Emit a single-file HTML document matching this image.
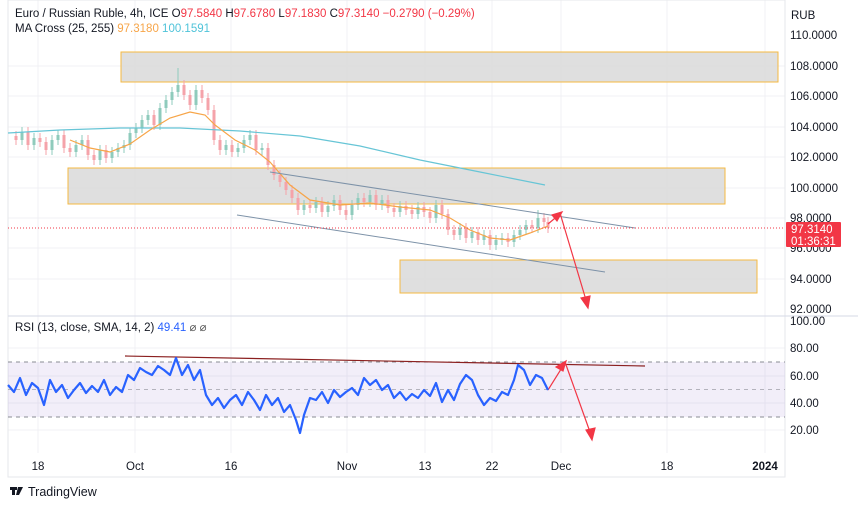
<!DOCTYPE html>
<html><head><meta charset="utf-8"><style>
body{margin:0;background:#fff;width:858px;height:507px;overflow:hidden;font-family:"Liberation Sans",sans-serif}
</style></head><body>
<svg width="858" height="507" xmlns="http://www.w3.org/2000/svg" font-family="Liberation Sans, sans-serif">
<rect width="858" height="507" fill="#fff"/>
<g stroke="#f0f1f4" stroke-width="1">
<path d="M38 0V453M135 0V453M231 0V453M347 0V453M425 0V453M492 0V453M561 0V453M667 0V453M765 0V453"/>
<path d="M8 66H785M8 96H785M8 127H785M8 157H785M8 188H785M8 218H785M8 248H785M8 279H785M8 348H785M8 376H785M8 403H785M8 430H785"/>
</g>
<rect x="8" y="0" width="777" height="477" fill="none" stroke="#e6e7eb"/>
<line x1="8" y1="316" x2="858" y2="316" stroke="#d6d8e6"/>
<rect x="8" y="362" width="777" height="55" fill="#7e57c2" fill-opacity="0.1"/>
<g stroke="#8a8c94" stroke-dasharray="4,4" stroke-width="1">
<line x1="8" y1="362" x2="785" y2="362"/><line x1="8" y1="389.5" x2="785" y2="389.5" stroke-opacity="0.6"/><line x1="8" y1="417" x2="785" y2="417"/></g>
<rect x="121" y="52" width="657" height="30" fill="#dcdcdc" fill-opacity="0.9" stroke="#f5b942"/>
<rect x="68" y="168" width="657" height="36" fill="#dcdcdc" fill-opacity="0.9" stroke="#f5b942"/>
<rect x="400" y="260" width="357" height="33" fill="#dcdcdc" fill-opacity="0.9" stroke="#f5b942"/>
<!-- candles -->
<path stroke="#f5a3aa" stroke-width="1" fill="none" d="M16 131V145M28 127V150M40 133V147M46 137V155M64 130V153M70 143V157M88 135V160M94 150V165M106 145V163M154 110V130M184 80V100M190 90V110M202 85V103M208 93V115M214 105V145M220 135V155M232 140V157M256 130V155M268 143V170M274 160V180M280 170V187M286 177V195M292 185V203M298 193V215M310 200V213M322 197V217M340 195V215M346 205V220M364 193V207M376 190V210M388 195V213M394 203V217M406 201V215M412 205V219M424 202V217M430 207V223M442 200V219M448 209V235M454 225V240M466 223V243M478 227V245M490 230V250M508 233V247M532 220V233M544 213V227M548 217V233"/>
<path stroke="#f5a3aa" stroke-width="3" fill="none" d="M16 136V140M28 132V145M40 138V142M46 142V150M64 135V148M70 148V152M88 140V155M94 155V160M106 150V158M154 115V125M184 85V95M190 95V105M202 90V98M208 98V110M214 110V140M220 140V150M232 145V152M256 135V150M268 148V165M274 165V175M280 175V182M286 182V190M292 190V198M298 198V210M310 205V208M322 202V212M340 200V210M346 210V215M364 198V202M376 195V205M388 200V208M394 208V212M406 206V210M412 210V214M424 207V212M430 212V218M442 205V214M448 214V230M454 230V235M466 228V238M478 232V240M490 235V245M508 238V242M532 225V228M544 218V222M548 222V228"/>
<path stroke="#8fcbbc" stroke-width="1" fill="none" d="M22 127V145M34 133V150M52 135V155M58 130V145M76 140V157M82 135V150M100 145V165M112 147V163M118 143V157M124 140V153M130 128V150M136 123V138M142 115V133M148 110V125M160 103V130M166 95V113M172 87V105M178 68V97M196 85V110M226 140V155M238 143V157M244 135V153M250 130V145M262 143V155M304 200V215M316 197V213M328 201V217M334 195V211M352 200V220M358 193V210M370 190V207M382 195V210M400 201V217M418 202V219M436 200V223M460 223V240M472 227V243M484 230V245M496 235V250M502 233V245M514 230V247M520 225V240M526 220V235M538 210V233"/>
<path stroke="#8fcbbc" stroke-width="3" fill="none" d="M22 132V140M34 138V145M52 140V150M58 135V140M76 145V152M82 140V145M100 150V160M112 152V158M118 148V152M124 145V148M130 133V145M136 128V133M142 120V128M148 115V120M160 108V125M166 100V108M172 92V100M178 85V92M196 90V105M226 145V150M238 148V152M244 140V148M250 135V140M262 148V150M304 205V210M316 202V208M328 206V212M334 200V206M352 205V215M358 198V205M370 195V202M382 200V205M400 206V212M418 207V214M436 205V218M460 228V235M472 232V238M484 235V240M496 240V245M502 238V240M514 235V242M520 230V235M526 225V230M538 218V228"/>
<polyline fill="none" stroke="#67c5d6" stroke-width="1.2" points="8,133 60,130 120,128 180,128 240,131 300,136 360,146 420,160 480,172 545,185"/>
<polyline fill="none" stroke="#f7a548" stroke-width="1.2" points="70,140 90,148 110,152 130,144 150,130 170,118 190,112 205,115 215,125 235,140 255,150 270,162 290,185 310,200 340,205 370,203 400,207 430,210 450,218 470,230 490,238 510,240 530,233 548,226"/>
<line x1="270" y1="172" x2="635" y2="228" stroke="#7d92a8" stroke-width="1"/>
<line x1="237" y1="215" x2="605" y2="272" stroke="#7d92a8" stroke-width="1"/>
<line x1="8" y1="228" x2="785" y2="228" stroke="#f23645" stroke-dasharray="1,2" stroke-width="1"/>
<g stroke="#f23645" stroke-width="1.2" fill="#f23645">
<line x1="548" y1="224" x2="560" y2="214"/><polygon points="562,212 552,215 557,221"/>
<line x1="560" y1="213" x2="586" y2="300"/><polygon points="588,308 581,298 590,296"/>
<line x1="125" y1="356" x2="645" y2="366" stroke="#8b2020"/>
<line x1="548" y1="390" x2="563" y2="366"/><polygon points="566,361 556,367 563,371"/>
<line x1="565" y1="362" x2="590" y2="432"/><polygon points="592,440 586,430 595,428"/>
</g>
<polyline fill="none" stroke="#2962ff" stroke-width="2.2" stroke-linejoin="round" points="8,385 14,392 20,378 26,395 32,383 38,388 44,405 50,380 56,392 62,385 68,398 74,390 80,383 86,393 92,386 98,392 104,380 110,395 116,387 122,392 128,375 134,380 140,368 146,372 152,375 158,366 164,370 170,375 176,358 182,375 188,365 194,380 200,370 206,395 212,405 218,398 224,408 230,400 236,395 242,405 248,392 254,400 260,410 266,395 272,405 278,398 284,412 290,405 296,420 300,433 304,415 310,398 316,400 322,392 328,403 334,390 340,397 346,392 352,388 358,395 364,378 370,385 376,380 382,390 388,385 394,398 400,392 406,400 412,394 418,398 424,390 430,396 436,383 442,402 448,390 454,400 460,384 466,375 472,380 478,395 484,405 490,398 496,401 502,392 508,395 514,380 518,365 524,370 530,385 536,375 542,378 548,390"/>
<g font-size="11.5" fill="#131722">
<text x="791" y="19">RUB</text>
<text x="790" y="39">110.0000</text><text x="790" y="70">108.0000</text><text x="790" y="100">106.0000</text>
<text x="790" y="131">104.0000</text><text x="790" y="161">102.0000</text><text x="790" y="192">100.0000</text>
<text x="790" y="222">98.0000</text><text x="790" y="252">96.0000</text><text x="790" y="283">94.0000</text>
<text x="790" y="313">92.0000</text>
<text x="790" y="325">100.00</text><text x="790" y="352">80.00</text><text x="790" y="380">60.00</text>
<text x="790" y="407">40.00</text><text x="790" y="434">20.00</text>
</g>
<rect x="786" y="222" width="55" height="25" fill="#f23645" rx="1"/>
<text x="791" y="233" font-size="11.5" fill="#fff">97.3140</text>
<text x="791" y="245" font-size="11.5" fill="#fff">01:36:31</text>
<g font-size="11.5" fill="#131722" text-anchor="middle">
<text x="38" y="470">18</text><text x="135" y="470">Oct</text><text x="231" y="470">16</text>
<text x="347" y="470">Nov</text><text x="425" y="470">13</text><text x="492" y="470">22</text>
<text x="561" y="470">Dec</text><text x="667" y="470">18</text><text x="765" y="470" font-weight="bold">2024</text>
</g>
<g font-size="11.5">
<text x="15" y="17" fill="#131722">Euro / Russian Ruble, 4h, ICE <tspan>O</tspan><tspan fill="#f23645">97.5840</tspan> H<tspan fill="#f23645">97.6780</tspan> L<tspan fill="#f23645">97.1830</tspan> C<tspan fill="#f23645">97.3140</tspan> <tspan fill="#f23645">−0.2790 (−0.29%)</tspan></text>
<text x="15" y="32" fill="#131722">MA Cross (25, 255) <tspan fill="#f7a548">97.3180</tspan> <tspan fill="#4fc3d9">100.1591</tspan></text>
<text x="15" y="331" fill="#131722">RSI (13, close, SMA, 14, 2) <tspan fill="#2962ff">49.41</tspan> <tspan fill="#555">⌀ ⌀</tspan></text>
</g>
<g fill="#131722"><rect x="10" y="487" width="7" height="3"/><rect x="12" y="487" width="3" height="8"/><polygon points="18,487 23,487 19,495 16,495"/></g>
<text x="28" y="496" font-size="12.5" fill="#131722">TradingView</text>
</svg>
</body></html>
